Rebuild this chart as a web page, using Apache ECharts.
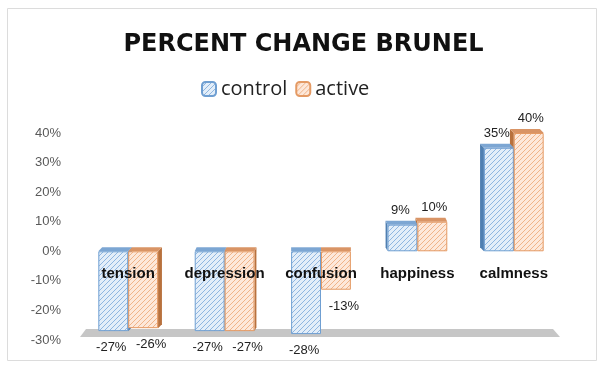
<!DOCTYPE html>
<html>
<head>
<meta charset="utf-8">
<script src="https://cdn.jsdelivr.net/npm/echarts@6/dist/echarts.min.js"></script>
<style>html,body{margin:0;padding:0;background:#fff;}#c{width:607px;height:372px;}</style>
</head>
<body>
<div id="c"></div>
<script>
const categories = ['tension', 'depression', 'confusion', 'happiness', 'calmness'];
const controlValues = [-27, -27, -28, 9, 35];
const activeValues = [-26, -27, -13, 10, 40];
const seriesNames = ['control', 'active'];
const yTicks = { min: -30, max: 40, interval: 10 };

const BAR_FRAC = 0.31;

function makePattern(bg, line) {
  const s = 5;
  const cv = document.createElement('canvas');
  cv.width = s; cv.height = s;
  const ctx = cv.getContext('2d');
  ctx.fillStyle = bg; ctx.fillRect(0, 0, s, s);
  ctx.strokeStyle = line; ctx.lineWidth = 1;
  ctx.beginPath();
  ctx.moveTo(0, s); ctx.lineTo(s, 0);
  ctx.moveTo(-1, 1); ctx.lineTo(1, -1);
  ctx.moveTo(s - 1, s + 1); ctx.lineTo(s + 1, s - 1);
  ctx.stroke();
  return { image: cv, repeat: 'repeat' };
}

const styles = [
  { pattern: makePattern('#e3eef9', '#8fb6e0'), border: '#6f9fd2', top: '#7ca6d3', side: '#4f7fb2' },
  { pattern: makePattern('#fde8da', '#f0b489'), border: '#e49a64', top: '#d99465', side: '#b8713d' }
];

const faceData = [];
categories.forEach((c, i) => {
  faceData.push([i, controlValues[i], 0]);
  faceData.push([i, activeValues[i], 1]);
});

function labelFor(v, s) {
  const neg = v < 0;
  return {
    position: neg ? 'bottom' : 'top',
    distance: neg ? 10 : 8,
    offset: s === 0 ? [-2, 0] : [neg ? 8 : 2, 0]
  };
}

const chart = echarts.init(document.getElementById('c'), null, { renderer: 'canvas' });
chart.setOption({
  animation: false,
  backgroundColor: '#fff',
  title: {
    text: 'PERCENT CHANGE BRUNEL',
    left: 'center',
    top: 28,
    textStyle: { fontFamily: 'DejaVu Sans', fontWeight: 'bold', fontSize: 24, color: '#111' }
  },
  legend: {
    data: seriesNames,
    left: 196,
    top: 74,
    itemWidth: 14,
    itemHeight: 14,
    itemGap: 8,
    textStyle: { fontFamily: 'Open Sans', fontSize: 20, color: '#222' }
  },
  graphic: [{
    type: 'rect',
    shape: { x: 7.5, y: 8.5, width: 589, height: 352 },
    style: { fill: 'none', stroke: '#dcdcdc', lineWidth: 1 },
    z: -1
  }],
  grid: { left: 80, right: 45, top: 133, bottom: 32 },
  xAxis: {
    type: 'category',
    data: categories,
    axisLine: { show: false },
    axisTick: { show: false },
    axisLabel: { show: false }
  },
  yAxis: {
    type: 'value',
    min: yTicks.min,
    max: yTicks.max,
    interval: yTicks.interval,
    splitLine: { show: false },
    axisLine: { show: false },
    axisLabel: {
      margin: 19,
      formatter: '{value}%',
      fontFamily: 'Liberation Sans',
      fontSize: 13,
      color: '#595959'
    }
  },
  series: [
    {
      type: 'custom',
      z: 1,
      silent: true,
      data: [[0]],
      renderItem: function (params, api) {
        const cs = params.coordSys;
        const b = cs.y + cs.height;
        const l = cs.x, r = cs.x + cs.width - 2;
        return {
          type: 'polygon',
          shape: { points: [[l, b - 3], [l + 6, b - 11], [r - 7, b - 11], [r, b - 3]] },
          style: { fill: '#c6c6c6' }
        };
      }
    },
    {
      type: 'custom',
      z: 2,
      silent: true,
      data: faceData,
      renderItem: function (params, api) {
        const i = api.value(0), v = api.value(1), s = api.value(2);
        const band = api.size([1, 0])[0];
        const bw = band * BAR_FRAC;
        const c0 = api.coord([i, 0]);
        const cx = c0[0], y0 = c0[1];
        const yv = api.coord([i, v])[1];
        const x0 = cx - bw + s * bw, x1 = x0 + bw;
        const yTop = Math.min(y0, yv), yBot = Math.max(y0, yv);
        const cs = params.coordSys;
        const mid = cs.x + cs.width / 2;
        const dx = (mid - cx) * 0.02;
        const dy = -4;
        const st = styles[s];
        const children = [];
        if (dx > 0.5) {
          children.push({ type: 'polygon', shape: { points: [[x1, yTop], [x1 + dx, yTop + dy], [x1 + dx, yBot + dy], [x1, yBot]] }, style: { fill: st.side } });
        } else if (dx < -0.5) {
          children.push({ type: 'polygon', shape: { points: [[x0, yTop], [x0 + dx, yTop + dy], [x0 + dx, yBot + dy], [x0, yBot]] }, style: { fill: st.side } });
        }
        children.push({ type: 'polygon', z2: 5, shape: { points: [[x0, yTop], [x1, yTop], [x1 + dx, yTop + dy], [x0 + dx, yTop + dy]] }, style: { fill: st.top } });
        return { type: 'group', children: children };
      }
    },
    {
      name: 'control',
      type: 'bar',
      z: 3,
      barWidth: (BAR_FRAC * 100) + '%',
      barGap: '0%',
      itemStyle: { color: styles[0].pattern, borderColor: styles[0].border, borderWidth: 1 },
      label: {
        show: true, formatter: '{c}%', fontFamily: 'Liberation Sans', fontSize: 13, color: '#222'
      },
      data: controlValues.map(v => ({ value: v, label: labelFor(v, 0) }))
    },
    {
      name: 'active',
      type: 'bar',
      z: 3,
      barWidth: (BAR_FRAC * 100) + '%',
      barGap: '0%',
      itemStyle: { color: styles[1].pattern, borderColor: styles[1].border, borderWidth: 1 },
      label: {
        show: true, formatter: '{c}%', fontFamily: 'Liberation Sans', fontSize: 13, color: '#222'
      },
      data: activeValues.map(v => ({ value: v, label: labelFor(v, 1) }))
    },
    {
      type: 'custom',
      z: 5,
      silent: true,
      data: categories.map((c, i) => [i]),
      renderItem: function (params, api) {
        const i = api.value(0);
        const p = api.coord([i, 0]);
        return {
          type: 'text',
          x: p[0],
          y: p[1] + 23,
          style: {
            text: categories[i],
            align: 'center',
            verticalAlign: 'middle',
            fontFamily: 'Liberation Sans',
            fontWeight: 'bold',
            fontSize: 15,
            fill: '#111'
          }
        };
      }
    }
  ]
});
</script>
</body>
</html>
